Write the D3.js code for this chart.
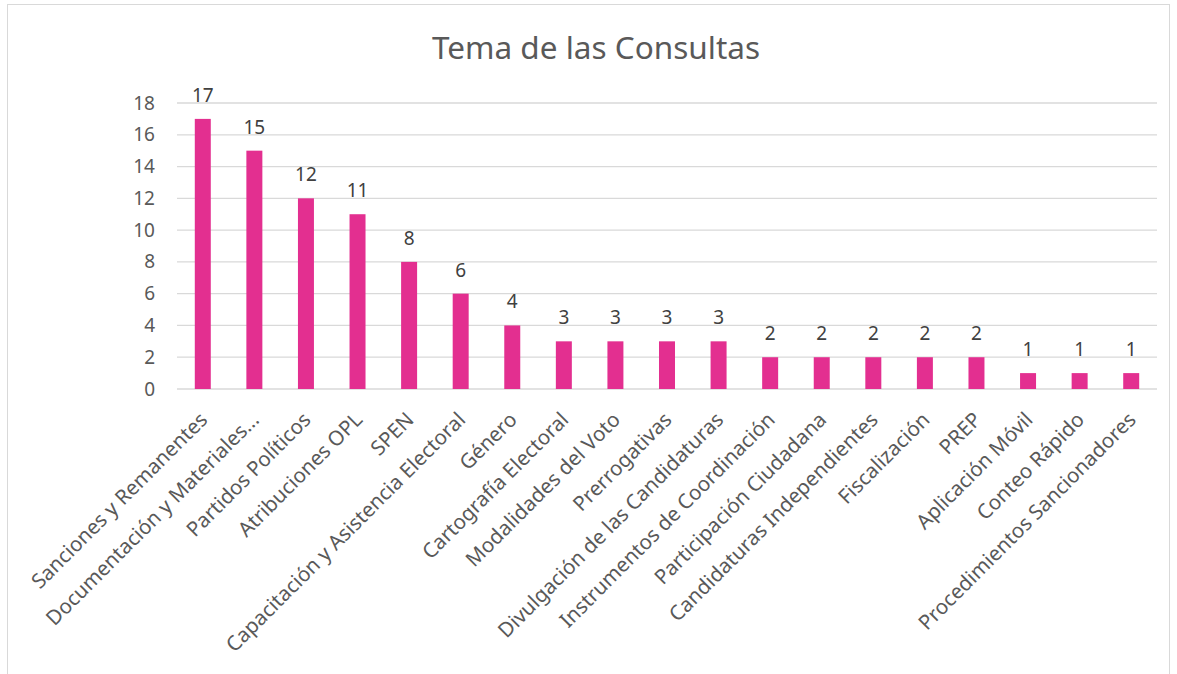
<!DOCTYPE html>
<html>
<head>
<meta charset="utf-8">
<script src="https://cdn.jsdelivr.net/npm/d3@7"></script>
<style>
  body { margin: 0; background: #fff; }
  svg { display: block; font-family: 'Noto Sans', sans-serif; }
</style>
</head>
<body>
<svg id="chart" width="1177" height="674"></svg>
<script>
const categories = [
    'Sanciones y Remanentes', 'Documentación y Materiales...', 'Partidos Políticos',
    'Atribuciones OPL', 'SPEN', 'Capacitación y Asistencia Electoral', 'Género',
    'Cartografía Electoral', 'Modalidades del Voto', 'Prerrogativas',
    'Divulgación de las Candidaturas', 'Instrumentos de Coordinación',
    'Participación Ciudadana', 'Candidaturas Independientes', 'Fiscalización',
    'PREP', 'Aplicación Móvil', 'Conteo Rápido', 'Procedimientos Sancionadores'
];
const values = [17, 15, 12, 11, 8, 6, 4, 3, 3, 3, 3, 2, 2, 2, 2, 2, 1, 1, 1];
const yTicks = [0, 2, 4, 6, 8, 10, 12, 14, 16, 18];
const title = 'Tema de las Consultas';

var svg = d3.select('#chart');
var margin = {left: 177, right: 20, top: 103, bottom: 285};
var width = 1177, height = 674;

// chart frame
svg.append('rect')
    .attr('x', 7.5).attr('y', 4.5)
    .attr('width', 1162).attr('height', 700)
    .attr('fill', '#fff')
    .attr('stroke', '#d9d9d9')
    .attr('stroke-width', 1);

var scaleX = d3.scaleBand()
    .domain(categories)
    .range([margin.left, width - margin.right])
    .paddingInner(0.69)
    .paddingOuter(0.345);

var scaleY = d3.scaleLinear()
    .domain([0, 18])
    .range([height - margin.bottom, margin.top]);

svg.append('text')
    .attr('x', 596).attr('y', 59)
    .attr('text-anchor', 'middle')
    .attr('font-size', 31.5)
    .attr('fill', '#595959')
    .text(title);

var yAxis = d3.axisLeft(scaleY).tickValues(yTicks).tickSize(0).tickPadding(0);

svg.append('g')
    .attr('transform', 'translate(' + margin.left + ',0)')
    .call(function (g) {
        g.call(yAxis);
        g.select('.domain').remove();
        g.selectAll('.tick line').remove();
        g.selectAll('.tick text')
            .attr('x', -22)
            .attr('font-size', 19)
            .attr('font-family', "'Noto Sans', sans-serif")
            .attr('fill', '#595959');
    });

svg.append('g').attr('class', 'grid')
    .selectAll('line')
    .data(yTicks)
    .join('line')
    .attr('x1', margin.left)
    .attr('x2', width - margin.right)
    .attr('y1', function (d) { return scaleY(d); })
    .attr('y2', function (d) { return scaleY(d); })
    .attr('stroke', '#d9d9d9')
    .attr('stroke-width', 1.3);

svg.append('g').attr('class', 'bars')
    .selectAll('rect')
    .data(values)
    .join('rect')
    .attr('x', function (d, i) { return scaleX(categories[i]); })
    .attr('y', function (d) { return scaleY(d); })
    .attr('width', scaleX.bandwidth())
    .attr('height', function (d) { return scaleY(0) - scaleY(d); })
    .attr('fill', '#e32f90');

svg.append('g').attr('class', 'values')
    .selectAll('text')
    .data(values)
    .join('text')
    .attr('x', function (d, i) { return scaleX(categories[i]) + scaleX.bandwidth() / 2; })
    .attr('y', function (d) { return scaleY(d) - 17; })
    .attr('text-anchor', 'middle')
    .attr('font-size', 19)
    .attr('fill', '#404040')
    .text(function (d) { return d; });

svg.append('g').attr('class', 'cats')
    .selectAll('text')
    .data(categories)
    .join('text')
    .attr('transform', function (d) {
        var cx = scaleX(d) + scaleX.bandwidth() / 2 + 6;
        return 'translate(' + cx + ',' + (scaleY(0) + 32) + ') rotate(-45)';
    })
    .attr('text-anchor', 'end')
    .attr('font-size', 20.5)
    .attr('fill', '#595959')
    .text(function (d) { return d; });
</script>
</body>
</html>
